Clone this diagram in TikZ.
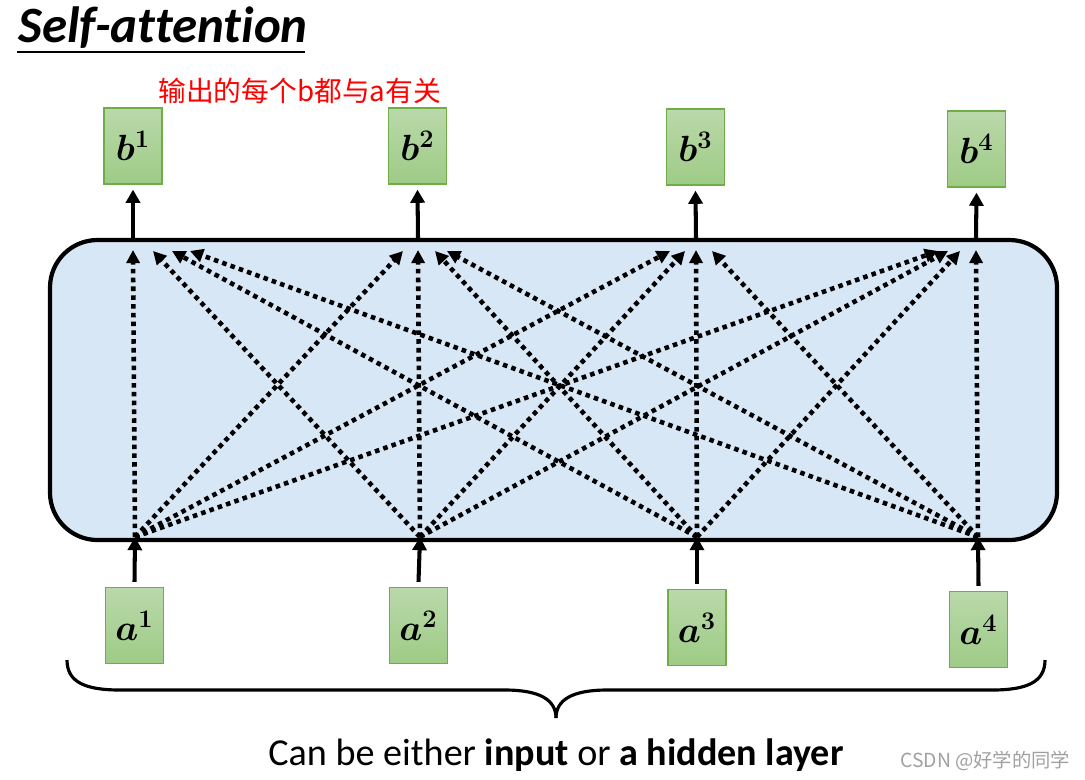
\documentclass[tikz,border=0pt]{standalone}
\usepackage{amsmath,bm}
\usepackage{fontspec}
\setmainfont{Carlito}[Ligatures=NoCommon]
\newfontfamily\cjkfont{Noto Sans CJK SC}
\usetikzlibrary{arrows.meta}
\definecolor{boxtop}{RGB}{186,217,170}
\definecolor{boxbot}{RGB}{158,203,134}
\definecolor{boxline}{RGB}{112,173,71}
\definecolor{panelfill}{RGB}{216,231,246}
\definecolor{wmgray}{RGB}{160,160,160}
\tikzset{
  vecbox/.style={draw=boxline, line width=0.7pt, top color=boxtop, bottom color=boxbot,
    minimum width=1.16cm, minimum height=1.52cm, inner sep=0pt,
    font=\fontsize{22}{26}\selectfont},
  panel/.style={draw=black, line width=2.4pt, fill=panelfill, rounded corners=0.95cm},
  solidarrow/.style={line width=2.3pt, -{Triangle[width=8pt,length=7.5pt]}},
  attn/.style={line width=2.6pt, dash pattern=on 2.6pt off 2.4pt,
    -{Triangle[width=7.5pt,length=7.5pt]}},
  bracestyle/.style={line width=1.8pt},
}
\begin{document}
\begin{tikzpicture}[x=0.02cm,y=-0.02cm]
\useasboundingbox (0,0) rectangle (1085,779);

% title
\node[anchor=base west, inner sep=0pt, font=\fontsize{29}{34}\selectfont\bfseries\itshape] (title) at (18,42) {Self-attention};
\draw[line width=1.5pt] (17,52) -- (305,52);

% red note
\node[anchor=west, inner sep=0pt, text=red, font=\cjkfont\fontsize{15.8}{19}\selectfont] (note) at (158,91) {输出的每个b都与a有关};

% panel
\path[panel] (50,240) rectangle (1057,540);

% output boxes
\node[vecbox] (b1) at (133,146) {$\bm{b}^{\bm{1}}$};
\node[vecbox] (b2) at (417.5,146) {$\bm{b}^{\bm{2}}$};
\node[vecbox] (b3) at (695.5,147) {$\bm{b}^{\bm{3}}$};
\node[vecbox] (b4) at (976.5,149) {$\bm{b}^{\bm{4}}$};

% input boxes
\node[vecbox] (a1) at (134.5,625.5) {$\bm{a}^{\bm{1}}$};
\node[vecbox] (a2) at (418.5,625.5) {$\bm{a}^{\bm{2}}$};
\node[vecbox] (a3) at (697,627.5) {$\bm{a}^{\bm{3}}$};
\node[vecbox] (a4) at (978.5,629.5) {$\bm{a}^{\bm{4}}$};

% panel connection points
\coordinate (o1) at (133,238);
\coordinate (o2) at (418,238);
\coordinate (o3) at (696,238);
\coordinate (o4) at (976,238);
\coordinate (i1) at (135,537);
\coordinate (i2) at (420,537);
\coordinate (i3) at (697,537);
\coordinate (i4) at (978,537);

% solid arrows
\draw[solidarrow] (o1) -- ([yshift=-0.1cm]b1.south);
\draw[solidarrow] (o2) -- ([yshift=-0.1cm]b2.south);
\draw[solidarrow] (o3) -- ([yshift=-0.1cm]b3.south);
\draw[solidarrow] (o4) -- ([yshift=-0.1cm]b4.south);
\draw[solidarrow] ([yshift=0.1cm]a1.north) -- (i1);
\draw[solidarrow] ([yshift=0.1cm]a2.north) -- (i2);
\draw[solidarrow] ([yshift=0.1cm]a3.north) -- (i3);
\draw[solidarrow] ([yshift=0.1cm]a4.north) -- (i4);

% attention targets
\coordinate (t11) at (133,250); \coordinate (t21) at (153,251); \coordinate (t31) at (172,251); \coordinate (t41) at (190,251);
\coordinate (t12) at (403,251); \coordinate (t22) at (418,250); \coordinate (t32) at (435,251); \coordinate (t42) at (447,251);
\coordinate (t13) at (670,251); \coordinate (t23) at (685,251); \coordinate (t33) at (696,250); \coordinate (t43) at (712,251);
\coordinate (t14) at (938,251); \coordinate (t24) at (948,251); \coordinate (t34) at (960,251); \coordinate (t44) at (976,250);

\foreach \i in {1,2,3,4}{
  \foreach \j in {1,2,3,4}{
    \draw[attn] (i\i) -- (t\i\j);
  }
}

% brace
\draw[bracestyle] (67,660) .. controls (67,682) and (85,690) .. (120,690)
  -- (505,690) .. controls (540,690) and (556,700) .. (556,718);
\draw[bracestyle] (556,718) .. controls (556,700) and (572,690) .. (607,690)
  -- (992,690) .. controls (1027,690) and (1045,682) .. (1045,660);

% caption
\node[anchor=base, inner sep=0pt, font=\fontsize{21.7}{26}\selectfont] (caption) at (556,765) {Can be either \textbf{input} or \textbf{a hidden layer}};

% watermark
\node[anchor=base west, inner sep=0pt, text=wmgray, font=\cjkfont\fontsize{11}{13}\selectfont] (wm) at (900,767) {CSDN @好学的同学};
\end{tikzpicture}
\end{document}
